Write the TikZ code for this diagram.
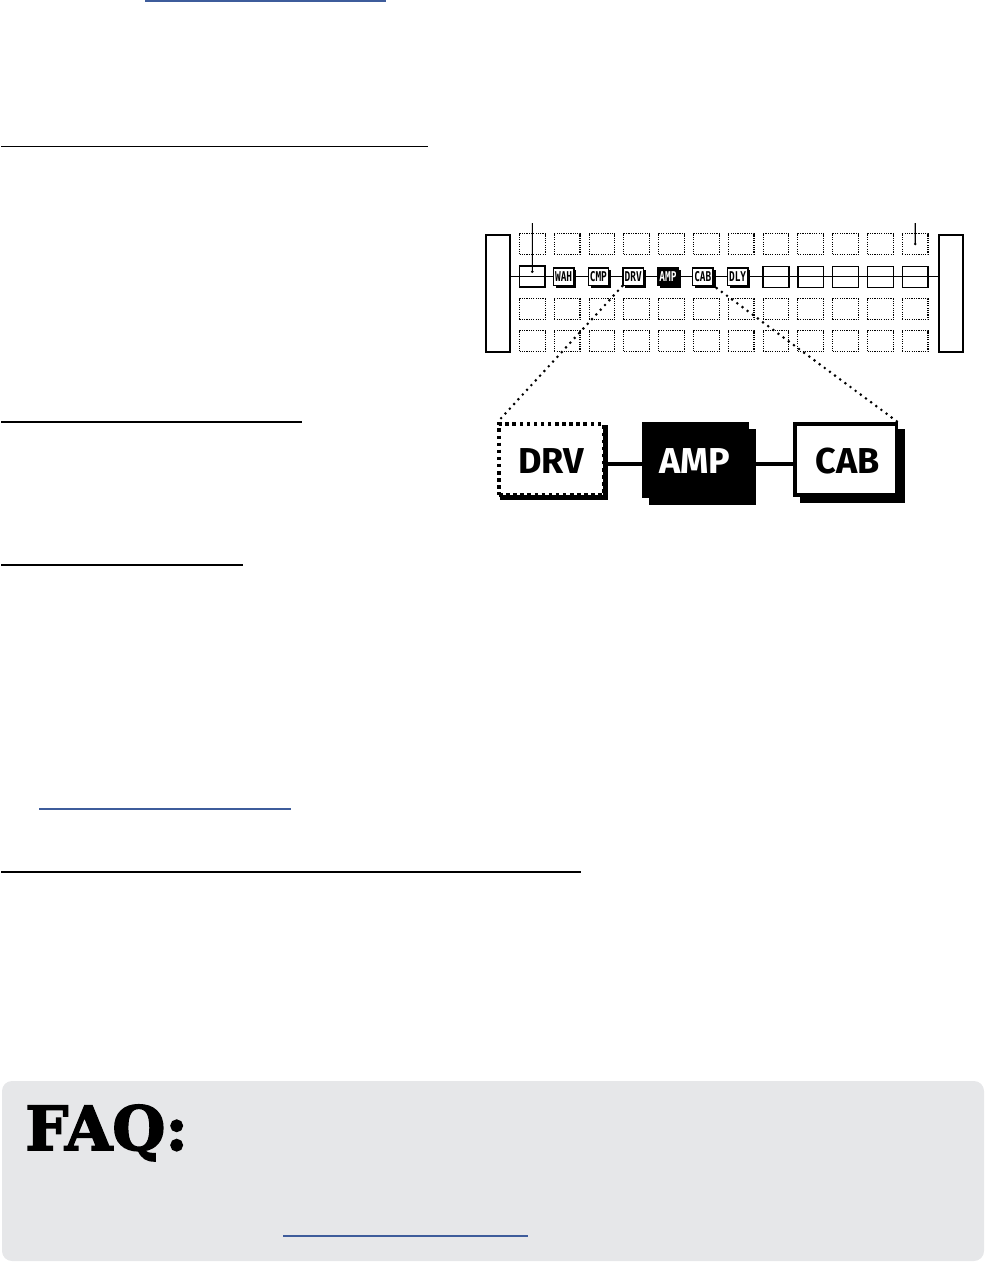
\documentclass[tikz,border=0pt]{standalone}
\usepackage{fontspec}
\usepackage{graphicx}
\newfontfamily\bigsans{Fira Sans}
\newfontfamily\pixfont{DejaVu Sans Mono}
\newfontfamily\faqfont{DejaVu Serif}[BoldFeatures={FakeBold=2.6}]
\usetikzlibrary{shadows}
\definecolor{linkblue}{RGB}{62,92,155}
\definecolor{faqgray}{RGB}{230,231,233}
\newcommand\pixlabel[1]{\scalebox{0.7}[1]{#1}}
\begin{document}
\begin{tikzpicture}[x=1pt,y=-1pt,
  cellbase/.style={minimum width=25.7pt, minimum height=21pt, inner sep=0pt, outer sep=0pt, anchor=north west},
  dotbox/.style={cellbase, draw, line width=1.15pt, dash pattern=on 1.15pt off 1.15pt},
  emptybox/.style={cellbase, draw, line width=1.4pt},
  fxbox/.style={draw, fill=white, line width=1.3pt, minimum width=20.5pt, minimum height=17.5pt, inner sep=0pt, anchor=north west,
    drop shadow={shadow xshift=2.5pt, shadow yshift=-2.5pt, fill=black, opacity=1},
    font=\pixfont\bfseries\fontsize{13.5}{13.5}\selectfont},
  fxdark/.style={fxbox, fill=black, text=white},
  bar/.style={draw, line width=2pt, minimum width=24.3pt, minimum height=117pt, inner sep=0pt, anchor=north west},
  bigtext/.style={font=\bigsans\bfseries\fontsize{36}{36}\selectfont, inner sep=0pt},
  zoomdots/.style={line width=2.9pt, line cap=round, dash pattern=on 0pt off 6.4pt},
  link/.style={linkblue, line width=2pt},
  rule/.style={black, line width=1.4pt},
  thickrule/.style={black, line width=2.6pt}
]
\useasboundingbox (0,0) rectangle (986,1262);

% page rules and links
\draw[link] (145,0.9) -- (386,0.9);
\draw[rule] (1,146.5) -- (428,146.5);
\draw[thickrule] (1,422) -- (302,422);
\draw[rule] (1,565) -- (243,565);
\draw[link, line width=2.2pt] (39,809) -- (291,809);
\draw[thickrule] (1,872) -- (581,872);

% FAQ panel
\fill[faqgray, rounded corners=10pt] (2,1081) rectangle (984,1261);
\node[anchor=base west, inner sep=0pt, font=\faqfont\bfseries\fontsize{61}{61}\selectfont] (faq) at (25,1150) {FAQ:};
\draw[link] (283,1236) -- (528,1236);

% side bars
\node[bar] (lbar) at (485,234) {};
\node[bar] (rbar) at (937.7,234) {};
\coordinate (rowline) at (700,276.7);
\draw[line width=1.2pt] (lbar.east |- rowline) -- (rbar.west |- rowline);

% grid of cells
\foreach \i in {0,...,11} {
  \pgfmathsetmacro\xl{519.5+34.8*\i}
  \node[dotbox] (c\i r1) at (\xl,233.5) {};
  \node[dotbox] (c\i r3) at (\xl,298.8) {};
  \node[dotbox] (c\i r4) at (\xl,330.5) {};
}
\node[emptybox, line width=1.6pt] (c0r2) at (519.5,266.2) {};
\foreach \i in {7,...,11} {
  \pgfmathsetmacro\xl{519.5+34.8*\i}
  \node[emptybox] (c\i r2) at (\xl,266.2) {};
}
\node[fxbox]  (swah) at (552.7,267.3) {\pixlabel{WAH}};
\node[fxbox]  (scmp) at (587.5,267.3) {\pixlabel{CMP}};
\node[fxbox]  (sdrv) at (622.3,267.3) {\pixlabel{DRV}};
\node[fxdark] (samp) at (657.1,267.3) {\pixlabel{AMP}};
\node[fxbox]  (scab) at (691.9,267.3) {\pixlabel{CAB}};
\node[fxbox]  (sdly) at (726.7,267.3) {\pixlabel{DLY}};

% taps
\coordinate (tapLtop) at (532.35,223);
\coordinate (tapL) at ([yshift=5pt]c0r2.center);
\draw[line width=1.2pt] (tapLtop) -- (tapL);
\fill (tapL) circle (1.4);
\coordinate (tapRtop) at (915.15,223);
\draw[line width=1.2pt] (tapRtop) -- (c11r1.center);
\fill (c11r1.center) circle (1.4);

% enlarged chain
\node[draw, fill=white, line width=3.5pt, dash pattern=on 3.5pt off 3.6pt,
      minimum width=104.3pt, minimum height=71pt, inner sep=0pt,
      drop shadow={shadow xshift=3pt, shadow yshift=-3pt, solid, draw=black, fill=black, line width=3.8pt, opacity=1}]
      (bdrv) at (551.2,459.5) {};
\node[fill=black, minimum width=107pt, minimum height=76pt, inner sep=0pt,
      drop shadow={shadow xshift=6.7pt, shadow yshift=-6.7pt, fill=black, opacity=1}]
      (bamp) at (695.8,460.3) {};
\node[draw, fill=white, line width=3.3pt, minimum width=101.6pt, minimum height=71pt, inner sep=0pt,
      drop shadow={shadow xshift=6.7pt, shadow yshift=-6.7pt, draw=black, fill=black, line width=3.3pt, opacity=1}]
      (bcab) at (845.8,459.5) {};
\node[bigtext] (tdrv) at (551,460.8) {DRV};
\node[bigtext, text=white] (tamp) at (694.7,460.8) {AMP};
\node[bigtext] (tcab) at (847.4,460.8) {CAB};

\coordinate (chainy) at (700,464);
\draw[line width=3.6pt] (bdrv.east |- chainy) -- (bamp.west |- chainy);
\draw[line width=3.6pt] (bamp.east |- chainy) -- (bcab.west |- chainy);

% zoom guides
\draw[zoomdots] (sdrv.south west) -- (bdrv.north west);
\draw[zoomdots] ([xshift=3pt,yshift=-2pt]scab.south east) -- (bcab.north east);
\end{tikzpicture}
\end{document}
